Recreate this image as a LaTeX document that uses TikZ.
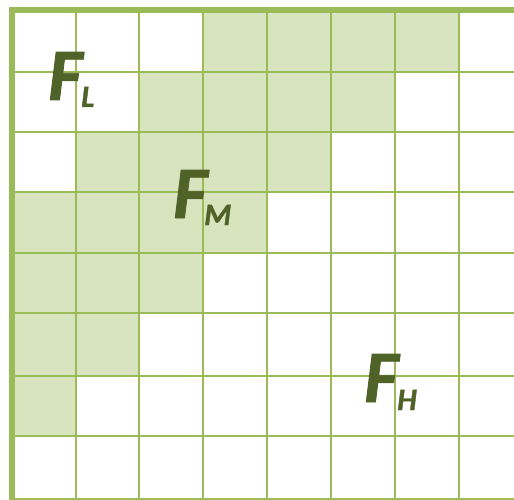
\documentclass[tikz,border=0pt]{standalone}
\usepackage{fontspec}
\setmainfont{Carlito}
\newfontfamily\labelfont{Carlito}[BoldItalicFeatures={FakeBold=1.2}]
\definecolor{gridgreen}{HTML}{9BBB59}
\definecolor{cellfill}{HTML}{D7E4BD}
\definecolor{textgreen}{HTML}{4F6228}
\tikzset{
  thinline/.style={draw=gridgreen, line width=2pt},
  thickline/.style={draw=gridgreen, line width=6pt},
  bigF/.style={anchor=base west, inner sep=0pt, text=textgreen, font=\labelfont\fontsize{74}{74}\selectfont\bfseries\itshape},
  subs/.style={anchor=base west, inner sep=0pt, text=textgreen, font=\labelfont\fontsize{31}{31}\selectfont\bfseries\itshape},
}
\begin{document}
\begin{tikzpicture}[x=1pt,y=-1pt]
\useasboundingbox (0,0) rectangle (514,500);
\begin{scope}
\clip (0,0) rectangle (514,500);
\def\xs{{12,76,139,203,267,331,395,459,523}}
\def\ys{{10,72,132,192,253,313,376,436,499}}
% shaded cells: (col,row)
\foreach \c/\r in {3/0,4/0,5/0,6/0, 2/1,3/1,4/1,5/1, 1/2,2/2,3/2,4/2, 0/3,1/3,2/3,3/3, 0/4,1/4,2/4, 0/5,1/5, 0/6}{
  \pgfmathsetmacro{\xa}{\xs[\c]}
  \pgfmathsetmacro{\xb}{\xs[\c+1]}
  \pgfmathsetmacro{\ya}{\ys[\r]}
  \pgfmathsetmacro{\yb}{\ys[\r+1]}
  \fill[cellfill] (\xa,\ya) rectangle (\xb,\yb);
}
\foreach \x in {76,139,203,267,331,395,459}{
  \draw[thinline] (\x,10) -- (\x,510);
}
\foreach \y in {72,132,192,253,313,376,436,499}{
  \draw[thinline] (12,\y) -- (520,\y);
}
\draw[thickline] (9,10) -- (520,10);
\draw[thickline] (12,7) -- (12,510);
\end{scope}
\node[bigF] (fl) at (48,100) {F};
\node[subs] (fls) at (81,107) {L};
\node[bigF] (fm) at (173,218) {F};
\node[subs] (fms) at (204,225) {M};
\node[bigF] (fh) at (364,402) {F};
\node[subs] (fhs) at (397,410) {H};
\end{tikzpicture}
\end{document}
